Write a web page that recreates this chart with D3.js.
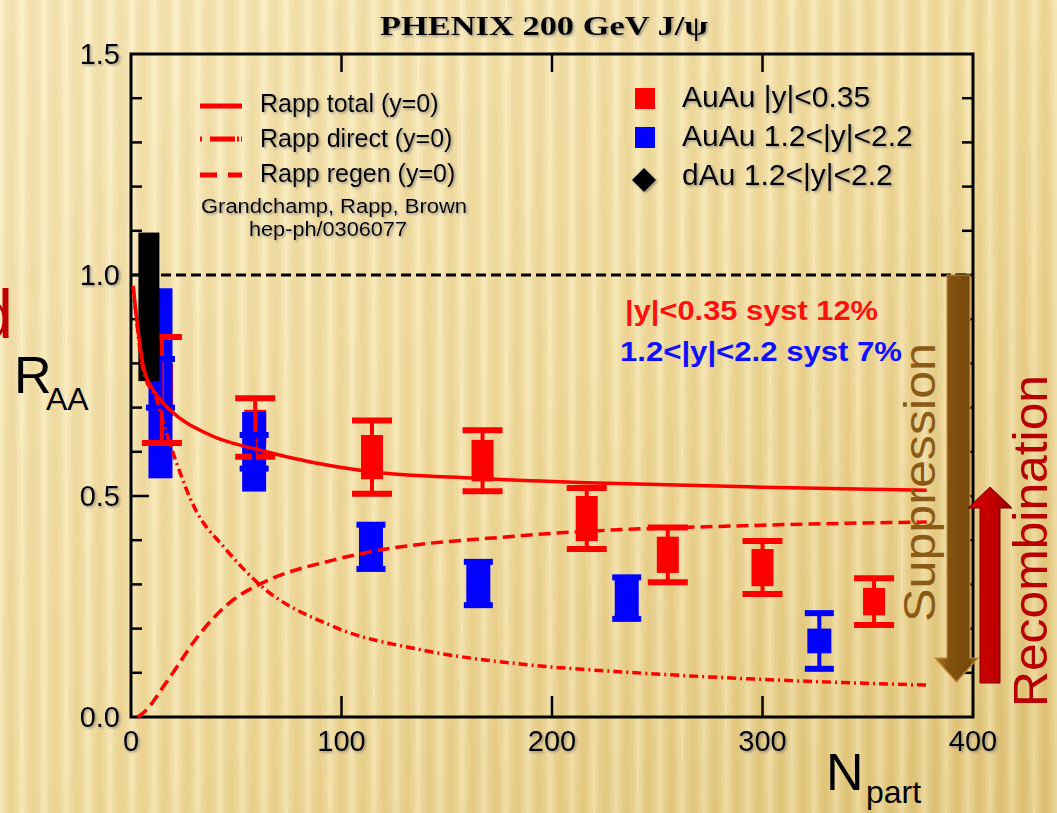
<!doctype html>
<html lang="en">
<head>
    <meta charset="UTF-8">
    <script src="https://cdnjs.cloudflare.com/ajax/libs/d3/7.8.5/d3.min.js"></script>
    <title>PHENIX 200 GeV J/psi RAA</title>
    <style>
        body { margin: 0; overflow: hidden; }
    </style>
</head>
<body>
<div id="Area"></div>
<script>
    // ---- data ----
    const xTicks = [0, 100, 200, 300, 400];
    const yTicks = [0.0, 0.5, 1.0, 1.5];

    // Rapp curves (y=0)
    const totalN  = [1, 6, 12, 18.5, 37.5, 61, 112, 164, 217, 300, 378];
    const totalR  = [0.975, 0.79, 0.73, 0.695, 0.638, 0.604, 0.556, 0.54, 0.53, 0.52, 0.513];
    const directN = [1, 6, 12, 17, 22, 29.5, 45, 61, 96, 140, 185, 240, 300, 379];
    const directR = [0.975, 0.78, 0.72, 0.64, 0.57, 0.48, 0.38, 0.30, 0.205, 0.15, 0.12, 0.10, 0.085, 0.072];
    const regenN  = [3, 6, 17, 33, 48.5, 61, 96, 112, 185, 300, 378];
    const regenR  = [0, 0.01, 0.08, 0.19, 0.265, 0.30, 0.355, 0.372, 0.41, 0.434, 0.441];

    // AuAu |y|<0.35
    const redN    = [14.7, 59, 114.5, 167, 216.5, 255, 300, 353];
    const redR    = [0.74, 0.655, 0.588, 0.58, 0.449, 0.367, 0.338, 0.261];
    const redStat = [0.12, 0.066, 0.083, 0.069, 0.069, 0.062, 0.06, 0.053];
    const redSyst = [0.06, 0.04, 0.05, 0.047, 0.051, 0.041, 0.042, 0.031];

    // AuAu 1.2<|y|<2.2
    const blueN    = [14, 58.5, 114, 165, 235.5, 327];
    const blueR    = [0.755, 0.60, 0.385, 0.302, 0.269, 0.172];
    const blueStat = [0.055, 0.038, 0.05, 0.049, 0.047, 0.063];
    const blueSyst = [0.215, 0.09, 0.05, 0.049, 0.047, 0.028];

    // dAu 1.2<|y|<2.2
    const dauN    = [8.5];
    const dauR    = [0.928];
    const dauSyst = [0.168];

    const W = 1057, H = 813;
    const plot = {left: 131, right: 973, top: 54, bottom: 717};

    const svg = d3.select("#Area").append("svg")
        .attr("width", W)
        .attr("height", H);

    const defs = svg.append("defs");

    // background
    const bg = defs.append("linearGradient").attr("id", "bg")
        .attr("x1", 0).attr("y1", 0).attr("x2", 1).attr("y2", 1);
    bg.append("stop").attr("offset", 0).attr("stop-color", "#fbefc5");
    bg.append("stop").attr("offset", 0.5).attr("stop-color", "#f3dfa3");
    bg.append("stop").attr("offset", 1).attr("stop-color", "#e0c477");

    const stripeGrad = defs.append("linearGradient").attr("id", "stripeGrad")
        .attr("x1", 0).attr("y1", 0).attr("x2", 1).attr("y2", 0);
    stripeGrad.append("stop").attr("offset", 0).attr("stop-color", "#fff8dc").attr("stop-opacity", 0.35);
    stripeGrad.append("stop").attr("offset", 0.5).attr("stop-color", "#c9a24a").attr("stop-opacity", 0.18);
    stripeGrad.append("stop").attr("offset", 1).attr("stop-color", "#fff8dc").attr("stop-opacity", 0.35);

    defs.append("pattern").attr("id", "stripes")
        .attr("patternUnits", "userSpaceOnUse")
        .attr("width", 22).attr("height", H)
        .append("rect").attr("width", 22).attr("height", H).attr("fill", "url(#stripeGrad)");

    const shadow = defs.append("filter").attr("id", "shadow")
        .attr("x", "-10%").attr("y", "-10%").attr("width", "130%").attr("height", "130%");
    shadow.append("feDropShadow").attr("dx", 1.5).attr("dy", 1.5).attr("stdDeviation", 0.8)
        .attr("flood-color", "#666").attr("flood-opacity", 0.6);

    const brownGrad = defs.append("linearGradient").attr("id", "brownGrad")
        .attr("x1", 0).attr("y1", 0).attr("x2", 1).attr("y2", 0);
    brownGrad.append("stop").attr("offset", 0).attr("stop-color", "#b07c2a");
    brownGrad.append("stop").attr("offset", 0.3).attr("stop-color", "#83540f");
    brownGrad.append("stop").attr("offset", 0.8).attr("stop-color", "#77490b");
    brownGrad.append("stop").attr("offset", 1).attr("stop-color", "#a06c1f");

    const redGrad = defs.append("linearGradient").attr("id", "redGrad")
        .attr("x1", 0).attr("y1", 0).attr("x2", 1).attr("y2", 0);
    redGrad.append("stop").attr("offset", 0).attr("stop-color", "#d80000");
    redGrad.append("stop").attr("offset", 0.6).attr("stop-color", "#c00000");
    redGrad.append("stop").attr("offset", 1).attr("stop-color", "#8c0000");

    svg.append("rect").attr("width", W).attr("height", H).attr("fill", "url(#bg)");
    svg.append("rect").attr("width", W).attr("height", H).attr("fill", "url(#stripes)");

    // scales
    const x = d3.scaleLinear().domain([0, 400]).range([plot.left, plot.right]);
    const y = d3.scaleLinear().domain([0, 1.5]).range([plot.bottom, plot.top]);

    // ---- frame and ticks ----
    const frame = svg.append("g");
    frame.append("rect")
        .attr("x", plot.left).attr("y", plot.top)
        .attr("width", plot.right - plot.left).attr("height", plot.bottom - plot.top)
        .attr("fill", "none").attr("stroke", "#000").attr("stroke-width", 3);

    const minorY = d3.range(1, 15).map(i => i / 10);
    frame.selectAll(".ytickL").data(minorY).join("line")
        .attr("x1", plot.left).attr("x2", d => plot.left + (Math.abs(d * 2 - Math.round(d * 2)) < 1e-6 ? 18 : 11))
        .attr("y1", d => y(d)).attr("y2", d => y(d))
        .attr("stroke", "#000").attr("stroke-width", 2.5);
    frame.selectAll(".ytickR").data(minorY).join("line")
        .attr("x1", plot.right).attr("x2", d => plot.right - (Math.abs(d * 2 - Math.round(d * 2)) < 1e-6 ? 18 : 11))
        .attr("y1", d => y(d)).attr("y2", d => y(d))
        .attr("stroke", "#000").attr("stroke-width", 2.5);
    const innerX = xTicks.slice(1, -1);
    frame.selectAll(".xtickB").data(innerX).join("line")
        .attr("x1", d => x(d)).attr("x2", d => x(d))
        .attr("y1", plot.bottom).attr("y2", plot.bottom - 21)
        .attr("stroke", "#000").attr("stroke-width", 2.5);
    frame.selectAll(".xtickT").data(innerX).join("line")
        .attr("x1", d => x(d)).attr("x2", d => x(d))
        .attr("y1", plot.top).attr("y2", plot.top + 18)
        .attr("stroke", "#000").attr("stroke-width", 2.5);

    const labels = svg.append("g")
        .attr("font-family", "Liberation Sans, Arial, sans-serif")
        .attr("fill", "#000")
        .attr("filter", "url(#shadow)");
    labels.selectAll(".ylab").data(yTicks).join("text")
        .attr("x", plot.left - 11).attr("y", d => y(d) + 10)
        .attr("text-anchor", "end").attr("font-size", 29)
        .text(d => d.toFixed(1));
    labels.selectAll(".xlab").data(xTicks).join("text")
        .attr("x", d => x(d)).attr("y", 751)
        .attr("text-anchor", "middle").attr("font-size", 29)
        .text(d => d);

    // reference line at 1
    svg.append("line")
        .attr("x1", x(0)).attr("x2", x(400)).attr("y1", y(1)).attr("y2", y(1))
        .attr("stroke", "#000").attr("stroke-width", 3).attr("stroke-dasharray", "10,5");

    // ---- data points ----
    const pts = svg.append("g");
    function boxes(N, R, S, color, w) {
        pts.append("g").selectAll("rect").data(N).join("rect")
            .attr("x", d => x(d) - w / 2)
            .attr("y", (d, i) => y(R[i] + S[i]))
            .attr("width", w)
            .attr("height", (d, i) => y(R[i] - S[i]) - y(R[i] + S[i]))
            .attr("fill", color);
    }
    function bars(N, R, E, color, cw) {
        const g = pts.append("g").attr("stroke", color);
        g.selectAll(".stem").data(N).join("line")
            .attr("x1", d => x(d)).attr("x2", d => x(d))
            .attr("y1", (d, i) => y(R[i] + E[i])).attr("y2", (d, i) => y(R[i] - E[i]))
            .attr("stroke-width", 4);
        g.selectAll(".capT").data(N).join("line")
            .attr("x1", d => x(d) - cw / 2).attr("x2", d => x(d) + cw / 2)
            .attr("y1", (d, i) => y(R[i] + E[i])).attr("y2", (d, i) => y(R[i] + E[i]))
            .attr("stroke-width", 6);
        g.selectAll(".capB").data(N).join("line")
            .attr("x1", d => x(d) - cw / 2).attr("x2", d => x(d) + cw / 2)
            .attr("y1", (d, i) => y(R[i] - E[i])).attr("y2", (d, i) => y(R[i] - E[i]))
            .attr("stroke-width", 6);
    }
    boxes(redN, redR, redSyst, "#ff0000", 22);
    boxes(blueN, blueR, blueSyst, "#0000ff", 24);
    bars(redN, redR, redStat, "#ff0000", 40);
    bars(blueN, blueR, blueStat, "#0000ff", 29);
    boxes(dauN, dauR, dauSyst, "#000000", 21);

    // ---- Rapp curves ----
    const line = d3.line().x(d => x(d[0])).y(d => y(d[1])).curve(d3.curveMonotoneX);
    const curves = svg.append("g").attr("fill", "none").attr("stroke", "#ff0000");
    curves.append("path").datum(d3.zip(totalN, totalR)).attr("d", line)
        .attr("stroke-width", 3.5);
    curves.append("path").datum(d3.zip(directN, directR)).attr("d", line)
        .attr("stroke-width", 3.5).attr("stroke-dasharray", "9,4,2,4");
    curves.append("path").datum(d3.zip(regenN, regenR)).attr("d", line)
        .attr("stroke-width", 3.5).attr("stroke-dasharray", "12,6");

    // ---- legends ----
    const leg = svg.append("g").attr("font-family", "Liberation Sans, Arial, sans-serif");
    const legLeft = [
        {label: "Rapp total (y=0)", dash: null, yy: 106, base: 112},
        {label: "Rapp direct (y=0)", dash: "2,8,25,2,2", yy: 139, base: 147},
        {label: "Rapp regen (y=0)", dash: "17,11,14", yy: 175, base: 182}
    ];
    legLeft.forEach(d => {
        leg.append("line").attr("x1", 200).attr("x2", 242).attr("y1", d.yy).attr("y2", d.yy)
            .attr("stroke", "#ff0000").attr("stroke-width", 5)
            .attr("stroke-dasharray", d.dash);
        leg.append("text").attr("x", 260).attr("y", d.base).attr("font-size", 25)
            .attr("filter", "url(#shadow)").text(d.label);
    });
    leg.append("text").attr("x", 334).attr("y", 213).attr("font-size", 20)
        .attr("text-anchor", "middle").attr("filter", "url(#shadow)")
        .attr("textLength", 266).attr("lengthAdjust", "spacingAndGlyphs")
        .text("Grandchamp, Rapp, Brown");
    leg.append("text").attr("x", 328).attr("y", 236).attr("font-size", 20)
        .attr("text-anchor", "middle").attr("filter", "url(#shadow)")
        .attr("textLength", 158).attr("lengthAdjust", "spacingAndGlyphs")
        .text("hep-ph/0306077");

    const legRight = [
        {label: "AuAu |y|<0.35", color: "#ff0000", base: 107},
        {label: "AuAu 1.2<|y|<2.2", color: "#0000ff", base: 146},
        {label: "dAu 1.2<|y|<2.2", color: "#000000", base: 185}
    ];
    legRight.forEach((d, i) => {
        if (i < 2) {
            leg.append("rect").attr("x", 635).attr("y", d.base - 19).attr("width", 20).attr("height", 21)
                .attr("fill", d.color);
        } else {
            leg.append("path").attr("d", "M644,168 L656,180 L644,192 L632,180 Z")
                .attr("fill", "#000").attr("filter", "url(#shadow)");
        }
        leg.append("text").attr("x", 682).attr("y", d.base).attr("font-size", 30)
            .attr("filter", "url(#shadow)").text(d.label);
    });

    leg.append("text").attr("x", 625).attr("y", 320).attr("font-size", 27)
        .attr("font-weight", "bold").attr("fill", "#ff1010")
        .attr("textLength", 253).attr("lengthAdjust", "spacingAndGlyphs")
        .text("|y|<0.35 syst 12%");
    leg.append("text").attr("x", 620).attr("y", 361).attr("font-size", 27)
        .attr("font-weight", "bold").attr("fill", "#1010ff")
        .attr("textLength", 282).attr("lengthAdjust", "spacingAndGlyphs")
        .text("1.2<|y|<2.2 syst 7%");

    // title
    svg.append("text").attr("x", 380).attr("y", 35)
        .attr("font-family", "Liberation Serif, Times New Roman, serif")
        .attr("font-weight", "bold").attr("font-size", 28)
        .attr("textLength", 328).attr("lengthAdjust", "spacingAndGlyphs")
        .attr("filter", "url(#shadow)")
        .text("PHENIX 200 GeV J/\u03C8");

    // axis titles
    const at = svg.append("g").attr("font-family", "Liberation Sans, Arial, sans-serif").attr("fill", "#000");
    at.append("text").attr("x", 14).attr("y", 393).attr("font-size", 52).text("R");
    at.append("text").attr("x", 46).attr("y", 410).attr("font-size", 32).text("AA");
    at.append("text").attr("x", 826).attr("y", 790).attr("font-size", 52).text("N");
    at.append("text").attr("x", 866).attr("y", 803).attr("font-size", 32).text("part");

    // slide leftovers
    svg.append("text").attr("x", 13).attr("y", 338)
        .attr("font-family", "Liberation Sans, Arial, sans-serif")
        .attr("font-size", 68).attr("text-anchor", "end").attr("fill", "#c00000")
        .text("d");

    // ---- arrows ----
    const arr = svg.append("g");
    arr.append("path")
        .attr("d", "M947,275 L970,275 L970,658 L978,658 L956.5,682 L935,658 L947,658 Z")
        .attr("fill", "url(#brownGrad)").attr("stroke", "#c08b3c").attr("stroke-width", 1.2);
    arr.append("path")
        .attr("d", "M980,683 L1000,683 L1000,508 L1012,508 L990,487 L968,508 L980,508 Z")
        .attr("fill", "url(#redGrad)").attr("stroke", "#7a0000").attr("stroke-width", 1);

    svg.append("text")
        .attr("transform", "translate(935,622) rotate(-90)")
        .attr("font-family", "Liberation Sans, Arial, sans-serif")
        .attr("font-size", 44).attr("fill", "#8b5a17")
        .attr("textLength", 279).attr("lengthAdjust", "spacingAndGlyphs")
        .text("Suppression");
    svg.append("text")
        .attr("transform", "translate(1047,707) rotate(-90)")
        .attr("font-family", "Liberation Sans, Arial, sans-serif")
        .attr("font-size", 48).attr("fill", "#b80000")
        .attr("textLength", 332).attr("lengthAdjust", "spacingAndGlyphs")
        .text("Recombination");
</script>
</body>
</html>
